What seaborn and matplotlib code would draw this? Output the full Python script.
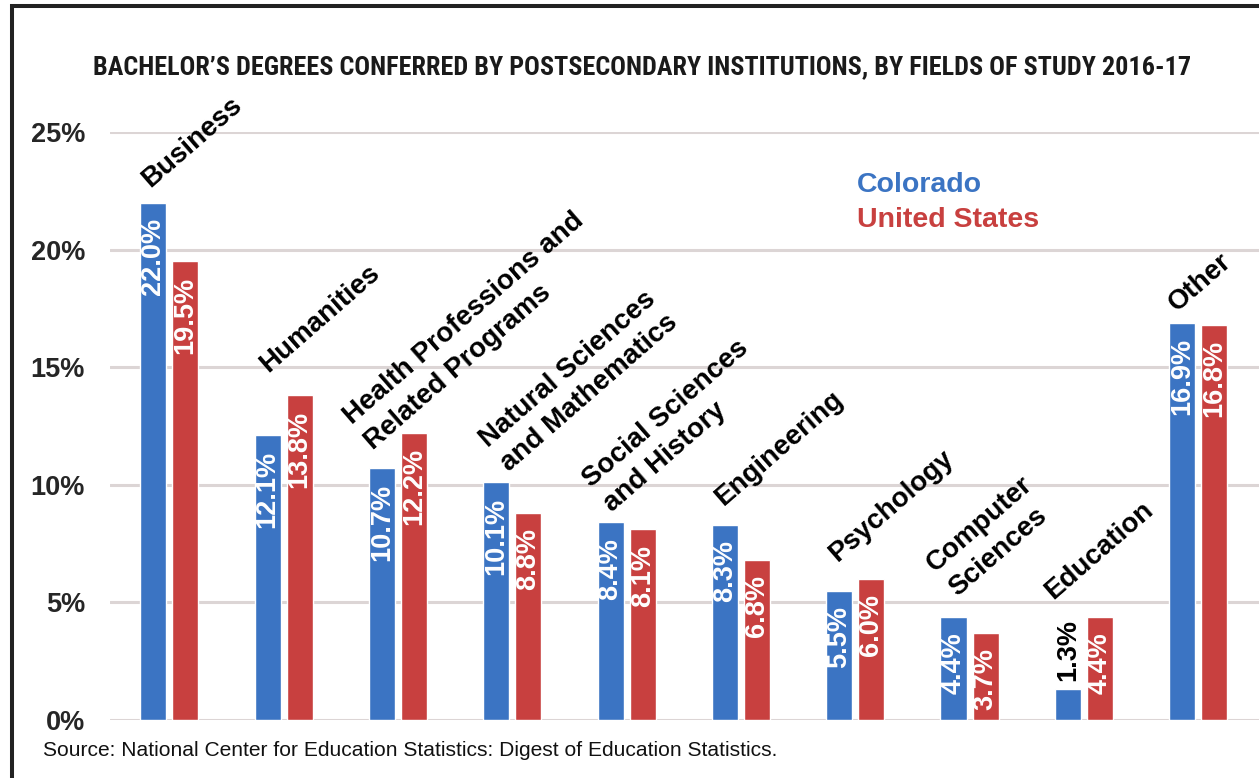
import matplotlib
matplotlib.use("Agg")
import matplotlib.pyplot as plt
from matplotlib import font_manager
from matplotlib.lines import Line2D
import seaborn as sns
import pandas as pd

# Fields of study and shares of bachelor's degrees (percent)
fields = [
    "Business",
    "Humanities",
    "Health Professions and\nRelated Programs",
    "Natural Sciences\nand Mathematics",
    "Social Sciences\nand History",
    "Engineering",
    "Psychology",
    "Computer\nSciences",
    "Education",
    "Other",
]
colorado = [22.0, 12.1, 10.7, 10.1, 8.4, 8.3, 5.5, 4.4, 1.3, 16.9]
united_states = [19.5, 13.8, 12.2, 8.8, 8.1, 6.8, 6.0, 3.7, 4.4, 16.8]
regions = ["Colorado", "United States"]
y_ticks = [0, 5, 10, 15, 20, 25]
y_tick_labels = ["0%", "5%", "10%", "15%", "20%", "25%"]

# Where the last line of each rotated field name starts
# (offset from group centre in category units, height in %)
name_dx = [-0.169, -0.137, -0.255, -0.065, -0.165, -0.156, -0.159, -0.150, -0.269, -0.184]
name_y = [22.62, 14.75, 11.70, 10.75, 9.05, 9.06, 6.68, 5.45, 5.10, 17.35]

BLUE = "#3b74c3"
RED = "#c8403f"

sns.set_style("white")
names = {f.name for f in font_manager.fontManager.ttflist}
condensed = [n for n in ["Liberation Sans Narrow", "Roboto Condensed", "Open Sans Condensed",
                         "Noto Sans Condensed", "DejaVu Sans Condensed"] if n in names]
title_family = condensed[0] if condensed else "Liberation Sans"
plt.rcParams["font.family"] = ["Liberation Sans", "DejaVu Sans"]

df = pd.DataFrame({
    "field": fields * 2,
    "region": [regions[0]] * len(fields) + [regions[1]] * len(fields),
    "share": colorado + united_states,
})

fig = plt.figure(figsize=(12.59, 7.78), dpi=100)
ax = fig.add_axes([110 / 1259, 1 - 720 / 778, 1 - 110 / 1259, (720 - 132) / 778])

sns.barplot(data=df, x="field", y="share", hue="region", hue_order=regions,
            palette=[BLUE, RED], width=0.561, gap=0.187, saturation=1,
            legend=False, ax=ax, zorder=3)

ax.set_xlim(-0.519, 9.532)
ax.set_ylim(0, 25)
ax.set_yticks(y_ticks)
ax.set_yticklabels(y_tick_labels, fontsize=19.5, fontweight="bold")
ax.tick_params(axis="y", length=0, pad=18)
ax.set_xticks([])
ax.set_xlabel("")
ax.set_ylabel("")
for s in ax.spines.values():
    s.set_visible(False)
ax.yaxis.grid(True, color="#dcd5d5", linewidth=2.2, zorder=0)
ax.set_axisbelow(True)

# Value labels inside (or above) the bars
for container in ax.containers:
    for patch in container:
        h = patch.get_height()
        xc = patch.get_x() + patch.get_width() / 2
        txt = f"{h:.1f}%"
        if h < 3:
            ax.annotate(txt, (xc, h), xytext=(0, 6), textcoords="offset points",
                        rotation=90, ha="center", va="bottom", color="black",
                        fontsize=19.5, fontweight="bold", zorder=5)
        else:
            ax.annotate(txt, (xc, h), xytext=(0, -11), textcoords="offset points",
                        rotation=90, ha="center", va="top", color="white",
                        fontsize=19.5, fontweight="bold", zorder=5)

# Rotated field names above each group
for i, name in enumerate(fields):
    ax.text(i + name_dx[i], name_y[i], name, rotation=41, rotation_mode="anchor",
            ha="left", va="baseline", multialignment="left", linespacing=1.35,
            fontsize=20, fontweight="bold", color="black", clip_on=False, zorder=6)

# Legend as coloured text
fig.text(857 / 1259, 1 - 185 / 778, "Colorado", color=BLUE, fontsize=20.5,
         fontweight="bold", ha="left", va="center")
fig.text(857 / 1259, 1 - 220 / 778, "United States", color=RED, fontsize=20.5,
         fontweight="bold", ha="left", va="center")

title = fig.text(642 / 1259, 1 - 74 / 778,
                 "BACHELOR\u2019S DEGREES CONFERRED BY POSTSECONDARY INSTITUTIONS, BY FIELDS OF STUDY 2016-17",
                 family=[title_family, "DejaVu Sans"], fontsize=19, fontweight="bold",
                 ha="center", va="baseline", color="#1a1a1a")
# fit the title to its line width
renderer = fig.canvas.get_renderer()
w = title.get_window_extent(renderer).width
title.set_fontsize(19 * 1095 / w)

fig.text(43 / 1259, 1 - 750 / 778,
         "Source: National Center for Education Statistics: Digest of Education Statistics.",
         fontsize=15.1, ha="left", va="center", color="#111111")

# Frame along the top and left edges
fig.add_artist(Line2D([10 / 1259, 1], [1 - 6 / 778, 1 - 6 / 778], color="#222222",
                      linewidth=2.9, transform=fig.transFigure, solid_capstyle="butt"))
fig.add_artist(Line2D([12 / 1259, 12 / 1259], [0, 1 - 4 / 778], color="#222222",
                      linewidth=2.9, transform=fig.transFigure, solid_capstyle="butt"))

fig.savefig("out.png", dpi=100, facecolor="white")
